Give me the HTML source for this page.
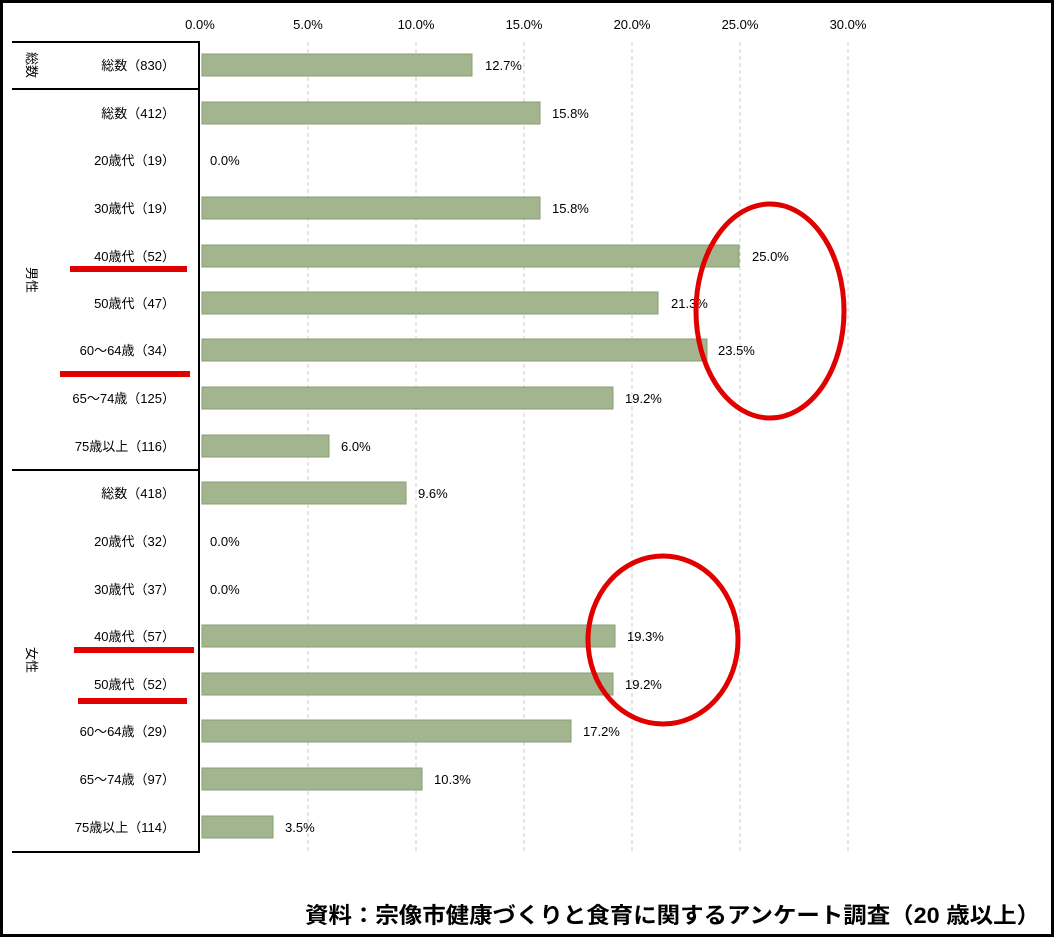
<!DOCTYPE html>
<html><head><meta charset="utf-8"><style>
body{margin:0;background:#fff}
svg{display:block}
text{font-family:"Liberation Sans","Noto Sans CJK JP",sans-serif}
</style></head><body>
<svg width="1055" height="939" viewBox="0 0 1055 939">
<rect x="1.5" y="1.5" width="1051" height="934" fill="#fff" stroke="#000" stroke-width="3"/>
<g stroke="#ccc" stroke-width="1" stroke-dasharray="4,3">
<line x1="308" y1="42" x2="308" y2="852"/><line x1="416" y1="42" x2="416" y2="852"/>
<line x1="524" y1="42" x2="524" y2="852"/><line x1="632" y1="42" x2="632" y2="852"/>
<line x1="740" y1="42" x2="740" y2="852"/><line x1="848" y1="42" x2="848" y2="852"/>
</g>
<g font-size="13" text-anchor="middle" fill="#000">
<text x="200" y="29">0.0%</text><text x="308" y="29">5.0%</text><text x="416" y="29">10.0%</text>
<text x="524" y="29">15.0%</text><text x="632" y="29">20.0%</text><text x="740" y="29">25.0%</text><text x="848" y="29">30.0%</text>
</g>
<g stroke="#000" stroke-width="2" fill="none">
<polyline points="12,42 199,42 199,852 12,852"/>
<line x1="12" y1="89" x2="199" y2="89"/>
<line x1="12" y1="470" x2="199" y2="470"/>
</g>
<g font-size="13" fill="#000">
<text transform="translate(27,65) rotate(90)" text-anchor="middle">総数</text>
<text transform="translate(27,280) rotate(90)" text-anchor="middle">男性</text>
<text transform="translate(27,660) rotate(90)" text-anchor="middle">女性</text>
</g>
<g font-size="13" text-anchor="end" fill="#000">
<text x="175" y="70">総数（830）</text>
<text x="175" y="118">総数（412）</text>
<text x="175" y="165">20歳代（19）</text>
<text x="175" y="213">30歳代（19）</text>
<text x="175" y="261">40歳代（52）</text>
<text x="175" y="308">50歳代（47）</text>
<text x="175" y="355">60～64歳（34）</text>
<text x="175" y="403">65～74歳（125）</text>
<text x="175" y="451">75歳以上（116）</text>
<text x="175" y="498">総数（418）</text>
<text x="175" y="546">20歳代（32）</text>
<text x="175" y="594">30歳代（37）</text>
<text x="175" y="641">40歳代（57）</text>
<text x="175" y="689">50歳代（52）</text>
<text x="175" y="736">60～64歳（29）</text>
<text x="175" y="784">65～74歳（97）</text>
<text x="175" y="832">75歳以上（114）</text>
</g>
<g fill="#e00000">
<rect x="70" y="266" width="117" height="6"/>
<rect x="60" y="371" width="130" height="6"/>
<rect x="74" y="647" width="120" height="6"/>
<rect x="78" y="698" width="109" height="6"/>
</g>
<g fill="#a3b58f" stroke="#889e70" stroke-width="1">
<rect x="202" y="54" width="270" height="22"/>
<rect x="202" y="102" width="338" height="22"/>
<rect x="202" y="197" width="338" height="22"/>
<rect x="202" y="245" width="537" height="22"/>
<rect x="202" y="292" width="456" height="22"/>
<rect x="202" y="339" width="505" height="22"/>
<rect x="202" y="387" width="411" height="22"/>
<rect x="202" y="435" width="127" height="22"/>
<rect x="202" y="482" width="204" height="22"/>
<rect x="202" y="625" width="413" height="22"/>
<rect x="202" y="673" width="411" height="22"/>
<rect x="202" y="720" width="369" height="22"/>
<rect x="202" y="768" width="220" height="22"/>
<rect x="202" y="816" width="71" height="22"/>
</g>
<g font-size="13" fill="#000">
<text x="485" y="70">12.7%</text>
<text x="552" y="118">15.8%</text>
<text x="210" y="165">0.0%</text>
<text x="552" y="213">15.8%</text>
<text x="752" y="261">25.0%</text>
<text x="671" y="308">21.3%</text>
<text x="718" y="355">23.5%</text>
<text x="625" y="403">19.2%</text>
<text x="341" y="451">6.0%</text>
<text x="418" y="498">9.6%</text>
<text x="210" y="546">0.0%</text>
<text x="210" y="594">0.0%</text>
<text x="627" y="641">19.3%</text>
<text x="625" y="689">19.2%</text>
<text x="583" y="736">17.2%</text>
<text x="434" y="784">10.3%</text>
<text x="285" y="832">3.5%</text>
</g>
<g fill="none" stroke="#e00000" stroke-width="5">
<ellipse cx="770" cy="311" rx="74" ry="107"/>
<ellipse cx="663" cy="640" rx="75" ry="84"/>
</g>
<text x="305" y="923" font-size="22" font-weight="bold" textLength="735" lengthAdjust="spacingAndGlyphs" fill="#000">資料：宗像市健康づくりと食育に関するアンケート調査（20 歳以上）</text>
</svg>
</body></html>
